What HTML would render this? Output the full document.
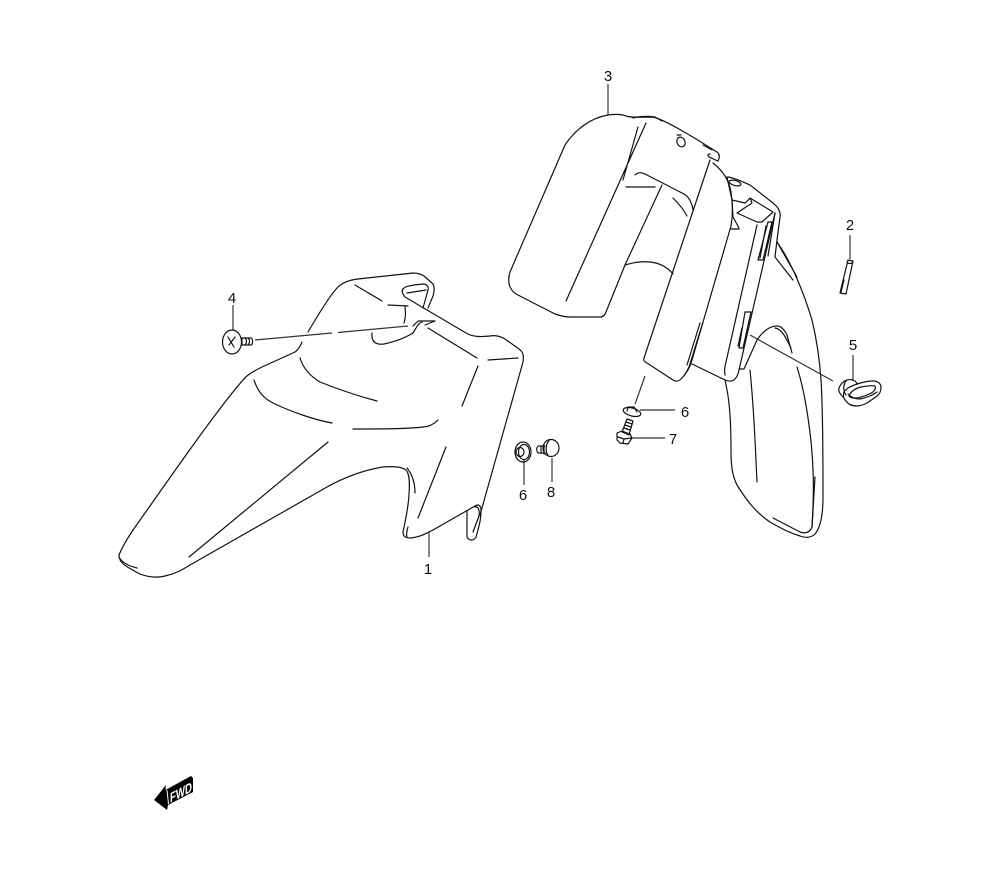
<!DOCTYPE html>
<html><head><meta charset="utf-8"><style>
html,body{margin:0;padding:0;background:#fff}
svg{display:block}
text{font-family:"Liberation Sans",sans-serif;font-size:15px;fill:#111;text-anchor:middle}
.l{fill:none;stroke:#111;stroke-width:1.2;stroke-linecap:round;stroke-linejoin:round}
.g{fill:none;stroke:#333;stroke-width:1.2}
</style></head><body>
<svg width="1000" height="880" viewBox="0 0 1000 880" xmlns="http://www.w3.org/2000/svg">
<g class="l">
<!-- front fender -->
<path d="M308 332C318 315 330 295 338 287C343 282 350 280 358 279L413 273C418 273 421 274 424 276L433 284C435 288 434 292 433 296L428 308"/>
<path d="M302 342C300 347 298 350 295 352L262 367C252 372 247 375 243 380C215 412 165 485 133 530C125 542 121 550 119 555C119 563 125 566 140 574C148 577 157 578 165 576C175 574 182 570 190 565L327 487C345 477 365 470 383 467C395 466 402 467 406 470C409 473 410 480 409 495C408 510 405 522 403 532C403 537 406 538 411 538C420 537 425 534 433 530L475 506C478 504 481 505 481 510C481 518 480 522 478 530L476 537C474 541 469 541 467 537L467 511"/>
<path d="M119 557C123 564 130 566 137 568"/>
<path d="M480 515L523 362C524 355 523 352 519 349L505 339C500 336 495 335 490 336C480 337 473 337 466 333L405 297C402 293 401 290 404 288C406 286 410 286 414 285L423 284C427 284 429 287 428 290L423 308"/>
<path d="M407 293L426 290"/>
<path d="M355 285L382 301M388 305L408 306"/>
<path d="M405 307C406 314 405 320 404 323"/>
<path d="M413 326L418 321H422L435 321M422 322C417 324 416 329 413 333C405 338 393 342 384 344C376 345 371 342 372 333"/>
<path d="M425 325L435 321"/>
<path d="M428 328L477 358M488 360L518 358M478 366L462 406"/>
<path d="M353 429C380 429 405 429 423 427C430 427 435 423 438 420"/>
<path d="M300 358C303 368 310 376 320 382C340 390 358 396 377 401"/>
<path d="M254 380C258 392 264 399 275 404C292 412 315 420 332 423"/>
<path d="M189 557L328 442"/>
<path d="M407 468C411 473 415 480 415 493"/>
<path d="M446 447L418 518"/>
<path d="M408 527C407 530 406 534 407 537"/>
<path d="M475 507C478 506 480 510 479 516L473 532"/>
<!-- rear fender -->
<path d="M608 115C590 118 575 130 565 145L510 272C507 282 509 289 516 294L555 314C561 316 565 317 570 317L600 317C603 317 605 315 606 312L625 265L662 185"/>
<path d="M635 175C638 172 641 172 645 174L684 194C689 197 692 203 693 210"/>
<path d="M608 115C615 114 621 114 626 116C632 118 640 117 652 117C662 118 690 135 717 152C720 154 720 157 718 161C715 160 712 158 709 157C707 155 708 154 710 154"/>
<path d="M633 118C640 116 648 116 655 117L662 121M703 145L712 150"/>
<path d="M638 127L623 180M646 123L566 301"/>
<path d="M626 187H655"/>
<path d="M673 198C679 204 684 210 687 216"/>
<path d="M625 265C632 263 640 261 650 262C660 263 668 268 673 274"/>
<ellipse cx="681" cy="142" rx="4" ry="5" transform="rotate(-25 681 142)"/>
<path d="M677 135H681"/>
<path d="M710 160L644 358C643 361 645 362 647 363L673 380C676 382 679 381 681 379C686 374 690 368 692 360L731 226"/>
<path d="M713 163C722 170 729 180 731 192C733 205 733 215 731 226"/>
<path d="M703 322L689 367C687 371 686 373 684 376M700 323L687 365"/>
<path d="M692 364L723 379C727 381 731 382 734 380C737 377 738 375 739 370L775 213"/>
<path d="M725 375C724 370 725 366 726 362L757 225"/>
<path d="M728 177C735 178 743 182 750 185L773 203C778 207 781 212 780 217L777 240L775 257L793 280"/>
<path d="M777 242L797 277"/>
<ellipse cx="735" cy="183" rx="6" ry="2.500" transform="rotate(15 735 183)"/>
<path d="M732 200L745 203C748 201 749 199 750 198L773 212L762 222H757L737 213L752 203L750 198"/>
<path d="M727 177L732 200L733 217L739 228M731 229H739"/>
<path d="M745 312H751L743 348H739Z"/>
<path d="M742 328L738 346"/>
<path d="M768 222H772L763 260H758Z"/>
<path d="M766 226L760 258M775 213L768 256"/>
<path d="M777 242C790 260 803 290 812 320C818 345 820 365 821 380C823 410 823 470 823 497C823 515 820 528 815 534C811 538 805 538 800 536C790 533 780 528 770 522C755 512 745 498 737 485C732 475 731 465 731 450C731 425 730 405 727 390L725 380"/>
<path d="M773 518L800 532C806 534 810 532 812 527L815 477"/>
<path d="M797 367C806 395 812 440 813 470C814 490 813 510 812 527"/>
<path d="M739 369H744L757 340C763 331 770 326 777 326C782 326 785 331 787 335L792 353"/>
<path d="M775 328C782 329 786 338 791 348"/>
<path d="M750 370C752 390 754 420 755 440L757 482"/>
</g>
<g class="g">
<!-- leaders -->
<path d="M608 84V115"/>
<path d="M233 305V330"/>
<path d="M429 532V557"/>
<path d="M524 460V485"/>
<path d="M552 458V482"/>
<path d="M850 235V259"/>
<path d="M853 355V381"/>
<path d="M750 335L833 381"/>
<path d="M255 340L332 333M338 332.500L408 326"/>
<path d="M645 376L635 404"/>
<path d="M640 410H675M632 438H665"/>
</g>
<g class="l">
<!-- 4 screw -->
<ellipse cx="232" cy="342" rx="9.500" ry="12"/>
<path d="M228 337L234 347M235 337L229 345"/>
<path d="M242 338H251C253 338 253 345 251 345H242Z"/>
<path d="M245 338C247 340 247 343 245 345M248 338C250 340 250 343 248 345"/>
<!-- 6 left nut -->
<ellipse cx="523" cy="452" rx="8" ry="10"/>
<ellipse cx="524" cy="452" rx="5.500" ry="7.500"/>
<ellipse cx="520" cy="452" rx="4" ry="4.500"/>
<!-- 8 bolt -->
<ellipse cx="551" cy="448" rx="8" ry="8.500"/>
<path d="M549 441C546 443 545 452 548 455"/>
<path d="M545 446H539C536 446 536 453 539 453H545"/>
<path d="M541 446V453M544 445V454"/>
<!-- 6 washer -->
<ellipse cx="632" cy="412" rx="9" ry="4" transform="rotate(15 632 412)"/>
<path d="M627 411L628 407H634L637 412"/>
<!-- 7 bolt -->
<path d="M627 419L633 421L629 435L622 432Z"/>
<path d="M626 422L632 424M625 425L631 427M624 428L630 430"/>
<path d="M617 433L622 431L630 434L632 438L628 444L620 443L617 440Z"/>
<path d="M618 437L624 439L631 438M624 439L623 443"/>
<!-- 2 rod -->
<path d="M848 260L853 261L846 294L840 293Z"/>
<path d="M847 262C848 264 852 264 853 262M844 280L841 292"/>
<!-- 5 grommet -->
<path d="M843 397C840 394 838 391 839 388C841 383 844 381 847 380C850 379 853 380 855 381C857 383 857 384 858 384"/>
<path d="M846 381C843 385 843 391 846 395"/>
<path d="M848 388C855 384 866 381 873 381C878 381 881 384 881 387C881 391 880 394 877 396C873 399 870 401 867 403C863 405 860 406 857 406C852 406 848 404 846 401C843 398 843 395 844 392C845 390 847 389 848 388Z"/>
<path d="M848 394C851 397 855 399 860 399C866 398 873 395 877 392"/>
<path d="M849 396C851 391 856 388 861 387C866 386 871 385 875 386C876 388 875 390 873 392C868 395 862 397 857 398C853 398 850 398 849 396Z"/>
</g>
<text x="608" y="81">3</text>
<text x="232" y="303">4</text>
<text x="428" y="574">1</text>
<text x="523" y="500">6</text>
<text x="551" y="497">8</text>
<text x="850" y="230">2</text>
<text x="853" y="350">5</text>
<text x="685" y="417">6</text>
<text x="673" y="444">7</text>
<!-- FWD -->
<path d="M154 800L166 785L165.500 790L191 776L193 778L193 792L168 805L167 810Z" fill="#000"/>
<path d="M167 790L168.500 804" stroke="#fff" stroke-width="1" fill="none"/>
<text transform="translate(170 803) skewY(-28)" x="0" y="0" style="font-size:14px;font-weight:bold;fill:#fff;text-anchor:start" textLength="22" lengthAdjust="spacingAndGlyphs">FWD</text>
</svg>
</body></html>
